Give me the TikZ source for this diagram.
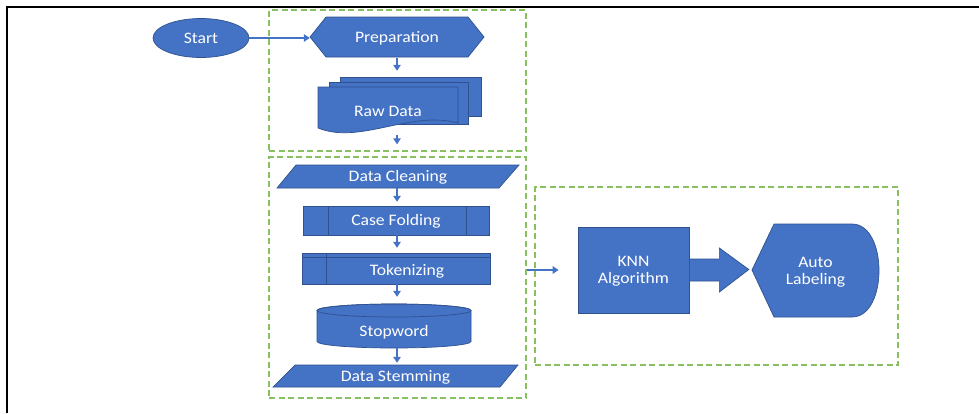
\documentclass[tikz,border=0pt]{standalone}
\usepackage{fontspec}
\setmainfont{Carlito}[FakeStretch=1.1]
\usetikzlibrary{calc,arrows.meta,shapes.geometric}
\definecolor{obl}{HTML}{4472C4}
\definecolor{obd}{HTML}{2F528F}
\definecolor{grn}{RGB}{135,192,95}
\tikzset{
  shp/.style={fill=obl,draw=obd,line width=0.7pt},
  box/.style={draw=none,inner sep=0pt,text=white,font=\fontsize{16}{17}\selectfont,align=center,text height=10.3pt,text depth=0pt},
  twoline/.style={text height=27.3pt,text depth=0pt},
  grp/.style={draw=grn,line width=1.4pt,dash pattern=on 6pt off 3.5pt,inner sep=0pt},
  arr/.style={draw=obl,line width=1.4pt,-{Triangle[length=6pt,width=7.5pt]}},
}
\begin{document}
\begin{tikzpicture}[x=1pt,y=-1pt]
\useasboundingbox (0,0) rectangle (979,413);
\fill[white] (0,0) rectangle (979,413);
% frame
\draw[line width=2pt,black] (7,413) -- (7,7) -- (979,7);
% group boxes
\node[grp,minimum width=257,minimum height=141] (box1) at (397.5,80.5) {};
\node[grp,minimum width=257,minimum height=241] (box2) at (397.5,277.5) {};
\node[grp,minimum width=363,minimum height=178] (box3) at (716.5,276) {};
% start
\node[shp,ellipse,minimum width=96,minimum height=39,inner sep=0pt,text=white,font=\fontsize{16}{17}\selectfont,text height=10.3pt,text depth=0pt] (start) at (201,38) {Start};
% preparation
\path[shp] (310,37) -- (326,17) -- (468,17) -- (484,37) -- (468,57) -- (326,57) -- cycle;
\node[box,minimum width=174,minimum height=40] (prep) at (397,37.5) {Preparation};
% raw data (multi document)
\path[shp] (340,77) rectangle (481,116);
\path[shp] (329,82) rectangle (468,124);
\path[shp] (318,87) -- (458,87) -- (458,123) .. controls (410,110) and (360,145) .. (318,128) -- cycle;
\node[box,minimum width=140,minimum height=48] (raw) at (388,111) {Raw Data};
% data cleaning
\path[shp] (277,188) -- (296,165) -- (519,165) -- (499,188) -- cycle;
\node[box,minimum width=242,minimum height=23] (clean) at (398,176.5) {Data Cleaning};
% case folding
\path[shp] (303,206) rectangle (489,235);
\draw[obd,line width=0.7pt] (328,206) -- (328,235) (466,206) -- (466,235);
\node[box,minimum width=186,minimum height=29] (fold) at (396,220.5) {Case Folding};
% tokenizing
\path[shp] (302,253) rectangle (490,284);
\draw[obd,line width=0.7pt] (326,253) -- (326,284) (302,257) -- (490,257);
\node[box,minimum width=188,minimum height=31] (tok) at (396,268.5) {\hspace{22pt}\raisebox{-1.5pt}{Tokenizing}};
% stopword cylinder
\path[shp] (317,310.5) -- (317,341.5) arc (180:0:77 and 6.5) -- (471,310.5) arc (0:-180:77 and 6.5) -- cycle;
\draw[obd,line width=0.7pt] (394,310.5) ellipse (77 and 6.5);
\node[box,minimum width=154,minimum height=44] (stop) at (394,326) {\raisebox{-5.5pt}{Stopword}};
% data stemming
\path[shp] (273,387) -- (295,365) -- (518,365) -- (500,387) -- cycle;
\node[box,minimum width=245,minimum height=22] (stem) at (395.5,376) {Data Stemming};
% KNN
\node[shp,box,twoline,draw=obd,line width=0.7pt,minimum width=111,minimum height=86] (knn) at (633.5,270) {KNN\\Algorithm};
% auto labeling (display)
\path[shp] (752,270) -- (774,224) -- (852,224) .. controls (888,224) and (888,317) .. (852,317) -- (774,317) -- cycle;
\node[box,twoline,minimum width=127,minimum height=93] (auto) at (815.5,270.5) {Auto\\Labeling};
% block arrow
\path[shp] ($(knn.east)+(0,-11)$) -- ($(knn.east)+(30,-11)$) -- ($(knn.east)+(30,-22)$) -- ($(auto.west)+(-3,-1)$) -- ($(knn.east)+(30,22)$) -- ($(knn.east)+(30,11)$) -- ($(knn.east)+(0,11)$) -- cycle;
% connectors
\draw[arr] (start.east) -- (start.east -| prep.west);
\draw[arr,shorten >=16pt] (prep.south) -- (prep.south |- raw.north);
\draw[arr,shorten >=12pt] (prep.south |- raw.south) -- (prep.south |- box2.north);
\draw[arr,shorten >=4pt] ($(fold.south |- clean.south)+(1,0)$) -- ($(fold.north)+(1,0)$);
\draw[arr,shorten >=5pt] ($(fold.south)+(1,0)$) -- ($(tok.north)+(1,0)$);
\draw[arr,shorten >=7pt] ($(tok.south)+(1,0)$) -- ($(tok.south |- stop.north)+(1,0)$);
\draw[arr,shorten >=2pt] ($(tok.south |- stop.south)+(1,0)$) -- ($(tok.south |- stem.north)+(1,0)$);
\draw[arr,shorten >=19pt] (box2.east |- knn.west) -- (knn.west);
\end{tikzpicture}
\end{document}
